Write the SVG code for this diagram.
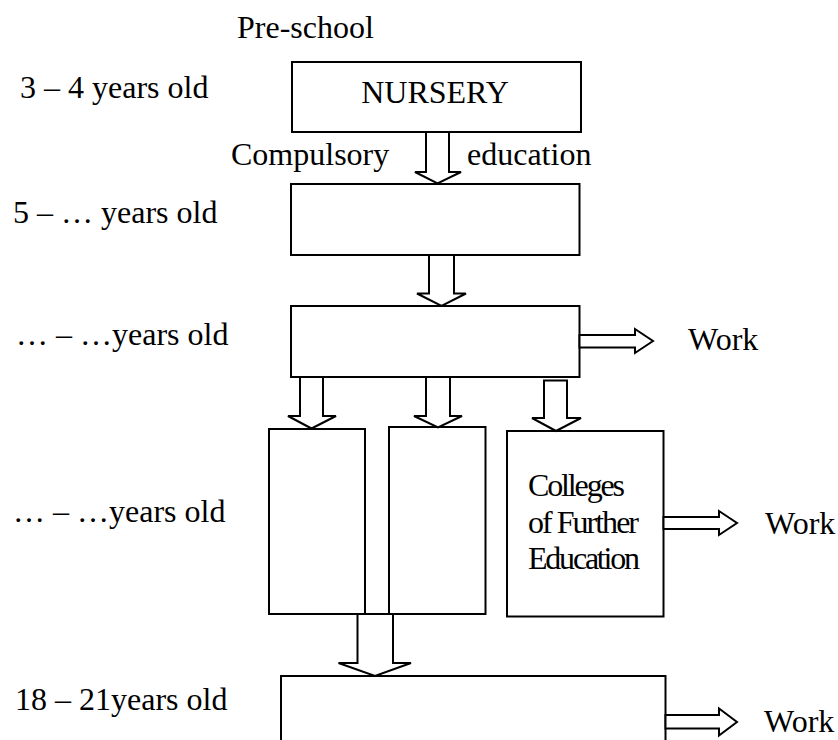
<svg xmlns="http://www.w3.org/2000/svg" width="838" height="740" viewBox="0 0 838 740">
<style>
text{font-family:'Liberation Serif','Tinos','Times New Roman','Nimbus Roman','DejaVu Serif',serif;font-size:32px;fill:#000}
.box{fill:#fff;stroke:#000;stroke-width:2}
.arr{fill:#fff;stroke:#000;stroke-width:2;stroke-linejoin:miter}
</style>
<rect width="838" height="740" fill="#fff"/>
<g id="labels" font-family="Liberation Serif, serif">
<text x="237" y="38">Pre-school</text>
<text x="20" y="98">3 – 4 years old</text>
<text x="13" y="223">5 – … years old</text>
<text x="16" y="345">… – …years old</text>
<text x="13" y="522">… – …years old</text>
<text x="15" y="710">18 – 21years old</text>
<text x="231" y="165">Compulsory</text>
<text x="467" y="165">education</text>
<text x="688" y="350">Work</text>
<text x="765" y="534">Work</text>
<text x="764" y="732">Work</text>
</g>
<g id="nursery"><rect class="box" x="292" y="62" width="289" height="70"/><text x="435" y="103" text-anchor="middle">NURSERY</text></g>
<g id="stage2"><rect class="box" x="291" y="184" width="288.5" height="71"/></g>
<g id="stage3"><rect class="box" x="291" y="306" width="288.5" height="71"/></g>
<g id="stage4a"><rect class="box" x="269" y="429" width="96" height="185"/></g>
<g id="stage4b"><rect class="box" x="389" y="427" width="96.5" height="187"/></g>
<g id="colleges"><rect class="box" x="507" y="431" width="156.5" height="185.5"/>
<text x="528" y="496" textLength="97">Colleges</text>
<text x="528" y="533" textLength="111">of Further</text>
<text x="528" y="569" textLength="112">Education</text>
</g>
<g id="higher"><rect class="box" x="281" y="676" width="384.5" height="90"/></g>
<g id="connectors">
<polygon class="arr" points="426,132 449,132 449,172 461,172 437.5,183.5 415,172 426,172"/>
<polygon class="arr" points="429,255 454,255 454,293.5 466,293.5 441.5,306 417,293.5 429,293.5"/>
<polygon class="arr" points="300,377 323,377 323,416 336,416 311.5,428.5 288,416 300,416"/>
<polygon class="arr" points="426,377 450,377 450,416 462,416 438,427.5 414,416 426,416"/>
<polygon class="arr" points="544,380.5 567,380.5 567,418 581,418 556,431 532,418 544,418"/>
<polygon class="arr" points="357.5,614 393,614 393,663 411,663 375,676 338.5,663 357.5,663"/>
<polygon class="arr" points="579.5,335 635,335 635,329 653,341 635,353 635,347.5 579.5,347.5"/>
<polygon class="arr" points="663.5,517 719,517 719,511 737,523 719,535 719,529 663.5,529"/>
<polygon class="arr" points="665.5,715 719,715 719,708.5 737,722 719,735.5 719,728.5 665.5,728.5"/>
</g>
</svg>
